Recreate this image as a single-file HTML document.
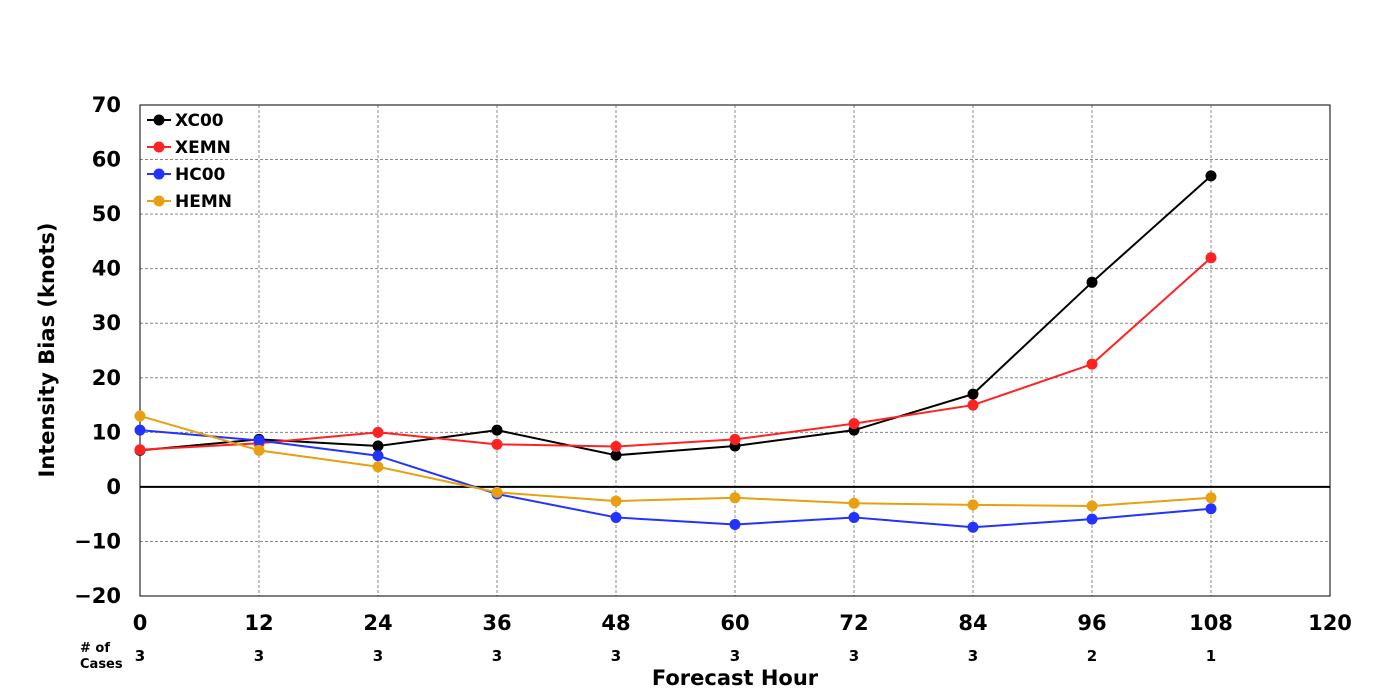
<!DOCTYPE html>
<html><head><meta charset="utf-8"><style>
html,body{margin:0;padding:0;background:#fff;width:1400px;height:700px;overflow:hidden}
text{font-family:"DejaVu Sans","Liberation Sans",sans-serif;font-weight:bold}
</style></head><body>
<svg id="chart" width="1400" height="700" xmlns="http://www.w3.org/2000/svg"></svg>
<script>
const hours=[0,12,24,36,48,60,72,84,96,108];
const xTicks=[0,12,24,36,48,60,72,84,96,108,120];
const yTicks=[-20,-10,0,10,20,30,40,50,60,70];
const cases=[3,3,3,3,3,3,3,3,2,1];
const xc00=[6.7,8.7,7.5,10.4,5.8,7.5,10.4,17,37.5,57];
const xemn=[6.8,8,10,7.8,7.4,8.7,11.6,15,22.5,42];
const hc00=[10.4,8.5,5.7,-1.3,-5.6,-6.9,-5.6,-7.4,-5.9,-4];
const hemn=[13,6.7,3.7,-1,-2.6,-2,-3,-3.3,-3.5,-2];
const seriesNames=["XC00","XEMN","HC00","HEMN"];
const seriesColors=["#000000","#ff2222","#2233ff","#e8a010"];
const seriesData=[xc00,xemn,hc00,hemn];
const L=140,R=1330,T=105,B=596;
const X=v=>L+(v-0)/120*(R-L);
const Y=v=>B-(v+20)/90*(B-T);
const svg=document.getElementById('chart');
const NS="http://www.w3.org/2000/svg";
function mk(tag,attrs,parent){const e=document.createElementNS(NS,tag);for(const k in attrs)e.setAttribute(k,attrs[k]);(parent||svg).appendChild(e);return e;}
// grid
xTicks.forEach(t=>{if(t>0&&t<120){const g=mk('line',{x1:X(t),x2:X(t),y1:T,y2:B,stroke:'#888','stroke-dasharray':'3,2','stroke-width':1});

}
const tx=mk('text',{x:X(t),y:630,'text-anchor':'middle','font-size':21});tx.textContent=t;

});
yTicks.forEach(t=>{if(t>-20&&t<70&&t!==0){const g=mk('line',{x1:L,x2:R,y1:Y(t),y2:Y(t),stroke:'#888','stroke-dasharray':'3,2','stroke-width':1});

}
const tx=mk('text',{x:121,y:Y(t)+7,'text-anchor':'end','font-size':21});tx.textContent=t===0?'0':(t<0?'\u2212'+(-t):t);

});
const z=mk('line',{x1:L,x2:R,y1:Y(0),y2:Y(0),stroke:'#000','stroke-width':2});


const fr=mk('rect',{x:L,y:T,width:R-L,height:B-T,fill:'none',stroke:'#000','stroke-width':1});


// series
seriesData.forEach((d,i)=>{const g=mk('g',{});


mk('polyline',{points:d.map((v,j)=>X(hours[j])+','+Y(v)).join(' '),fill:'none',stroke:seriesColors[i],'stroke-width':2},g);
d.forEach((v,j)=>{const c=mk('circle',{cx:X(hours[j]),cy:Y(v),r:5.5,fill:seriesColors[i]},g);

});});
// legend
seriesNames.forEach((n,i)=>{const g=mk('g',{});


const y=120+i*27;
mk('line',{x1:147,x2:171,y1:y,y2:y,stroke:seriesColors[i],'stroke-width':2},g);
mk('circle',{cx:159,cy:y,r:5.5,fill:seriesColors[i]},g);
const t=mk('text',{x:175,y:y+6,'font-size':17},g);t.textContent=n;});
// cases
cases.forEach((c,i)=>{const t=mk('text',{x:X(hours[i]),y:661,'text-anchor':'middle','font-size':15});t.textContent=c;

});
const c1=mk('text',{x:80,y:652,'font-size':13});c1.textContent='# of';


const c2=mk('text',{x:80,y:668,'font-size':13});c2.textContent='Cases';


const xt=mk('text',{x:735,y:685,'text-anchor':'middle','font-size':21});xt.textContent='Forecast Hour';


const yt=mk('text',{x:0,y:0,'text-anchor':'middle','font-size':21,transform:'translate(54,350) rotate(-90)'});yt.textContent='Intensity Bias (knots)';


</script>
</body></html>
